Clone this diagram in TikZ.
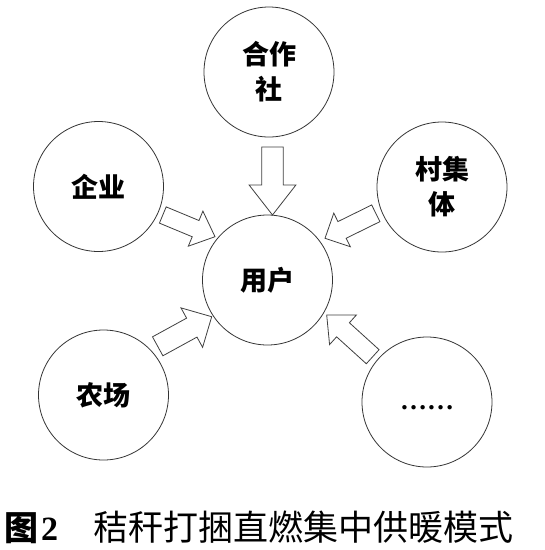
\documentclass[tikz,border=0pt]{standalone}
\usepackage{fontspec}
\setmainfont{Noto Sans CJK SC}
\newfontfamily\capserif{Liberation Serif}
\usetikzlibrary{calc}
\tikzset{
  circ/.style={circle, draw=black!80, line width=0.8pt, minimum size=130pt, inner sep=0pt, align=center,
    font=\fontsize{27}{35}\selectfont\bfseries},
  arrowline/.style={draw=black!75, line width=0.8pt, fill=white, line join=miter},
}
% #1 tail, #2 tip, #3 shaft half width, #4 head half width, #5 head length
\newcommand\blockarrow[5]{%
  \coordinate (ba-h) at ($(#2)!#5!(#1)$);
  \draw[arrowline] ($(#1)!#3!90:(#2)$) -- ($(ba-h)!#3!90:(#2)$) -- ($(ba-h)!#4!90:(#2)$) -- (#2)
    -- ($(ba-h)!#4!-90:(#2)$) -- ($(ba-h)!#3!-90:(#2)$) -- ($(#1)!#3!-90:(#2)$) -- cycle;
}
\begin{document}
\begin{tikzpicture}[x=1pt,y=-1pt]
\useasboundingbox[fill=white] (0,0) rectangle (545,550);

\node[circ] (coop) at (269,72) {合作\\社};
\node[circ] (firm) at (98.5,186.5) {企业};
\node[circ] (vill) at (442,187) {村集\\体};
\node[circ] (user) at (267.5,280) {用户};
\node[circ] (farm) at (103.5,395) {农场};
\node[circ] (etc) at (427,402) {};
\node[font=\fontsize{27}{27}\selectfont\capserif\bfseries] (dots) at ($(etc.center)+(0,6)$) {……};

\coordinate (a1t) at (272.5,147);   \coordinate (a1h) at (272.5,215);
\coordinate (a2t) at (162.8,215);   \coordinate (a2h) at (215,236.7);
\coordinate (a3t) at (375.8,213.3); \coordinate (a3h) at (325,238.3);
\coordinate (a4t) at (157.7,346.3); \coordinate (a4h) at (211.7,316.7);
\coordinate (a5t) at (372.7,356.7); \coordinate (a5h) at (326.7,315);

\blockarrow{a1t}{a1h}{10.8pt}{23.4pt}{30pt}
\blockarrow{a2t}{a2h}{8.8pt}{19pt}{21pt}
\blockarrow{a3t}{a3h}{9.3pt}{18.7pt}{19pt}
\blockarrow{a4t}{a4h}{10.8pt}{22.5pt}{22.7pt}
\blockarrow{a5t}{a5h}{9.5pt}{20pt}{22pt}

\node[anchor=base west, inner sep=0pt, font=\fontsize{34}{34}\selectfont\bfseries] (fig) at (4,540) {图\hspace{3pt}{\capserif 2}};
\node[anchor=base west, inner sep=0pt, font=\fontsize{35}{35}\selectfont] (cap) at (93,540) {秸秆打捆直燃集中供暖模式};
\end{tikzpicture}
\end{document}
